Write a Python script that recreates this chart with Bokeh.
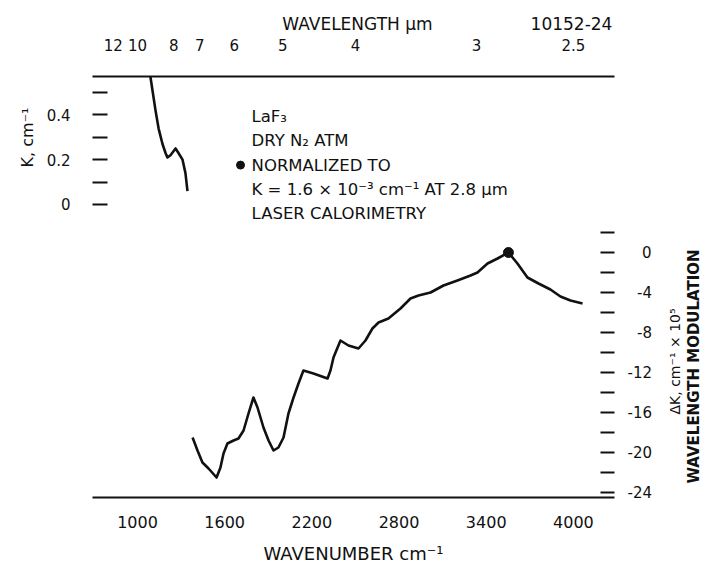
from math import pi
from bokeh.plotting import figure
from bokeh.models import Range1d, LinearAxis, FixedTicker
from bokeh.core.properties import value
from bokeh.embed import file_html
from bokeh.resources import INLINE

# ---------------- data ----------------
# wavelength-modulation spectrum  (wavenumber cm^-1, dK cm^-1 x 10^5)
wn_main = [1379, 1413, 1447, 1489, 1544, 1571, 1592, 1619, 1661, 1695,
           1730, 1764, 1798, 1826, 1867, 1902, 1936, 1970, 2005, 2039,
           2074, 2108, 2142, 2211, 2308, 2328, 2349, 2397, 2452, 2521,
           2569, 2617, 2659, 2727, 2810, 2879, 2934, 3017, 3106, 3202,
           3292, 3340, 3409, 3478, 3553, 3615, 3684, 3760, 3842, 3911,
           3980, 4063]
dk_main = [-18.5, -19.8, -21.0, -21.6, -22.5, -21.5, -20.1, -19.1, -18.8, -18.6,
           -17.8, -16.1, -14.5, -15.5, -17.5, -18.8, -19.8, -19.5, -18.5, -16.1,
           -14.5, -13.1, -11.8, -12.1, -12.6, -11.8, -10.5, -8.8, -9.3, -9.6,
           -8.8, -7.6, -7.0, -6.6, -5.6, -4.6, -4.3, -4.0, -3.3, -2.8,
           -2.3, -2.0, -1.1, -0.6, 0.0, -1.1, -2.5, -3.1, -3.7, -4.4,
           -4.8, -5.1]
# absolute absorption K (cm^-1) in the multiphonon edge
wn_k = [1089, 1103, 1124, 1145, 1172, 1193, 1206, 1227, 1262, 1282, 1310, 1330, 1344]
k_vals = [0.57, 0.51, 0.42, 0.34, 0.27, 0.23, 0.21, 0.22, 0.25, 0.23, 0.20, 0.14, 0.06]
# normalization point (laser calorimetry)
norm_wn = [3553]
norm_dk = [0.0]

wn_ticks = [1000, 1600, 2200, 2800, 3400, 4000]
wl_ticks = [12, 10, 8, 7, 6, 5, 4, 3, 2.5]
wl_labels = ["12", "10", "8", "7", "6", "5", "4", "3", "2.5"]
k_ticks = [0, 0.2, 0.4]
k_labels = ["0", "0.2", "0.4"]
k_minor = [0.1, 0.3, 0.5]
dk_ticks = [0, -4, -8, -12, -16, -20, -24]
dk_labels = ["0", "-4", "-8", "-12", "-16", "-20", "-24"]
dk_minor = [2, -2, -6, -10, -14, -18, -22]
note_lines = ["LaF\u2083", "DRY N\u2082 ATM", "NORMALIZED TO",
              "K = 1.6 \u00d7 10\u207b\u00b3 cm\u207b\u00b9 AT 2.8 \u03bcm",
              "LASER CALORIMETRY"]
top_title = "WAVELENGTH \u03bcm"
fig_code = "10152-24"
k_title = "K, cm\u207b\u00b9"
dk_title = "\u0394K, cm\u207b\u00b9 \u00d7 10\u2075"
mod_title = "WAVELENGTH MODULATION"

# ---------------- figure ----------------
FONT = "DejaVu Sans"
INK = "#111111"

p = figure(width=718, height=572,
           x_range=Range1d(690.3, 4283), y_range=Range1d(-24.5, 17.6),
           x_axis_location=None, y_axis_location=None,
           output_backend="svg", toolbar_location=None,
           min_border_left=92, min_border_right=104,
           min_border_top=76, min_border_bottom=75)
p.outline_line_color = None
p.background_fill_color = "white"
p.border_fill_color = "white"
p.grid.visible = False
p.extra_y_ranges = {"K": Range1d(-1.308, 0.5714)}


def style_axis(ax, size="16px"):
    ax.major_label_text_font = FONT
    ax.major_label_text_font_size = size
    ax.major_label_text_color = INK
    ax.axis_label_text_font = FONT
    ax.axis_label_text_font_style = "normal"
    ax.axis_label_text_color = INK
    ax.major_tick_line_color = INK
    ax.minor_tick_line_color = INK
    ax.major_tick_line_width = 2
    ax.minor_tick_line_width = 2
    ax.axis_line_color = INK
    ax.axis_line_width = 2


def no_ticks(ax):
    ax.major_tick_in = 0
    ax.major_tick_out = 0
    ax.minor_tick_in = 0
    ax.minor_tick_out = 0


def text_axis(at, labels, size, standoff, range_name="default", rotate=True, bold=False):
    """An axis with no line or ticks, used only to place title texts outside the frame."""
    kw = dict(ticker=FixedTicker(ticks=at, minor_ticks=[]),
              major_label_overrides=dict(zip(at, labels)))
    if range_name != "default":
        kw["y_range_name"] = range_name
    if rotate:
        kw["major_label_orientation"] = pi / 2
    ax = LinearAxis(**kw)
    style_axis(ax, size)
    ax.axis_line_color = None
    no_ticks(ax)
    ax.major_label_standoff = standoff
    if bold:
        ax.major_label_text_font_style = "bold"
    return ax


def pad_right(labels):
    """Pad with figure/three-per-em spaces so left-set labels look right-aligned."""
    width = lambda s: sum(1.0 if c.isdigit() else 0.55 for c in s)
    w_max = max(width(s) for s in labels)
    out = []
    for s in labels:
        gap = w_max - width(s)
        n_fig = int(gap + 1e-6)
        n_small = round((gap - n_fig) / 0.55)
        out.append("\u2007" * n_fig + "\u2004" * n_small + s)
    return out


# bottom: wavenumber
xb = LinearAxis(ticker=FixedTicker(ticks=wn_ticks, minor_ticks=[]),
                axis_label="WAVENUMBER cm\u207b\u00b9")
style_axis(xb)
no_ticks(xb)
xb.major_label_standoff = 18
xb.axis_label_text_font_size = "18px"
xb.axis_label_standoff = 12
p.add_layout(xb, "below")

# top: wavelength
wl_pos = [round(1e4 / l, 3) for l in wl_ticks]
xt = LinearAxis(ticker=FixedTicker(ticks=wl_pos, minor_ticks=[]),
                major_label_overrides=dict(zip(wl_pos, wl_labels)))
style_axis(xt, "15px")
no_ticks(xt)
xt.major_label_standoff = 26
p.add_layout(xt, "above")

# top title row: axis title and figure code (wavenumber positions of their centres)
p.add_layout(text_axis([2514, 3987], [top_title, fig_code], "17px", 2, rotate=False), "above")

# left: K
yl = LinearAxis(y_range_name="K",
                ticker=FixedTicker(ticks=k_ticks, minor_ticks=k_minor),
                major_label_overrides=dict(zip(k_ticks, k_labels)))
style_axis(yl, "15px")
yl.axis_line_color = None
yl.major_tick_in = 15
yl.major_tick_out = 0
yl.minor_tick_in = 15
yl.minor_tick_out = 0
yl.major_label_standoff = 22
p.add_layout(yl, "left")
p.add_layout(text_axis([14.5], [k_title], "16px", 16), "left")

# right: dK
yr = LinearAxis(ticker=FixedTicker(ticks=dk_ticks, minor_ticks=dk_minor),
                major_label_overrides=dict(zip(dk_ticks, pad_right(dk_labels))))
style_axis(yr, "15px")
yr.axis_line_color = None
yr.major_tick_in = 14
yr.major_tick_out = 0
yr.minor_tick_in = 14
yr.minor_tick_out = 0
yr.major_label_standoff = 13
p.add_layout(yr, "right")
p.add_layout(text_axis([-16.2], [dk_title], "14px", 20), "right")
p.add_layout(text_axis([-23.1], [mod_title], "15px", 0, bold=True), "right")

# curves
p.line(wn_main, dk_main, line_color=INK, line_width=2.6, line_join="round")
p.line(wn_k, k_vals, y_range_name="K", line_color=INK, line_width=2.6, line_join="round")
p.scatter(norm_wn, norm_dk, size=10, marker="circle", fill_color=INK, line_color=INK)

# annotation block
note_x = 1785
note_top = 13.6
note_step = 2.43
note_y = [note_top - i * note_step for i in range(len(note_lines))]
p.text(x=[note_x] * len(note_lines), y=note_y, text=note_lines,
       text_font=value(FONT), text_font_size="16.5px", text_color=INK,
       text_baseline="middle", text_align="left")
p.scatter([note_x - 76], [note_y[2]], size=8, marker="circle",
          fill_color=INK, line_color=INK)

open("out.html", "w").write(file_html(p, INLINE))
